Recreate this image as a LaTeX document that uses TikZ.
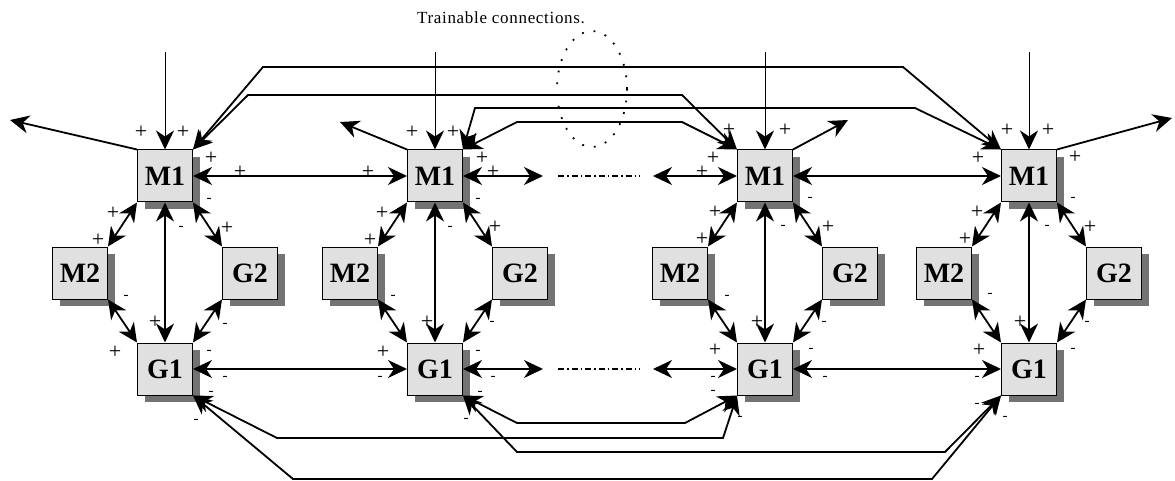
\documentclass[tikz,border=0pt]{standalone}
\usepackage{fontspec}
\setmainfont{Liberation Serif}
\usepackage{tikz}
\usetikzlibrary{arrows.meta, shadows, shapes.geometric}
\definecolor{boxFill}{gray}{0.88}
\definecolor{shadowGray}{gray}{0.45}

\begin{document}
\begin{tikzpicture}[x=1pt, y=-1pt,
    unit/.style={draw, line width=1pt, fill=boxFill, minimum width=55pt, minimum height=52pt,
        inner sep=0pt, font=\bfseries\fontsize{28}{28}\selectfont,
        drop shadow={shadow xshift=7pt, shadow yshift=-7pt, fill=shadowGray, opacity=1}},
    link/.style={line width=1.8pt, {Stealth[length=19pt, width=18pt, inset=6pt]}-{Stealth[length=19pt, width=18pt, inset=6pt]}},
    outlink/.style={line width=1.8pt, -{Stealth[length=19pt, width=18pt, inset=6pt]}},
    wire/.style={line width=1pt, -{Stealth[length=19pt, width=18pt, inset=6pt]}},
    sgnplus/.style={inner sep=0pt, font=\fontsize{22}{22}\selectfont},
    sgnminus/.style={inner sep=0pt, font=\fontsize{15}{15}\selectfont}]
    \useasboundingbox (0,0) rectangle (1175,481);

    \foreach \c/\x in {1/165, 2/435, 3/765, 4/1029} {
        \node[unit] (M1-\c) at (\x,176) {M1};
        \node[unit] (G1-\c) at (\x,369) {G1};
        \node[unit] (M2-\c) at ({\x-85},273) {M2};
        \node[unit] (G2-\c) at ({\x+85},273) {G2};
        \coordinate (in-\c) at (\x,52);
        \draw[wire] (in-\c) -- (M1-\c);
        \draw[link] (M1-\c) -- (G1-\c);
        \draw[link] (M1-\c.south west) -- (M2-\c.north east);
        \draw[link] (M1-\c.south east) -- (G2-\c.north west);
        \draw[link] (M2-\c.south east) -- (G1-\c.north west);
        \draw[link] (G2-\c.south west) -- (G1-\c.north east);
    }

    % outputs
    \coordinate (out-1) at (10,120);
    \coordinate (out-2) at (340,122);
    \coordinate (out-3) at (848,120);
    \coordinate (out-4) at (1172,118);
    \draw[outlink] (M1-1.north west) -- (out-1);
    \draw[outlink] (M1-2.north west) -- (out-2);
    \draw[outlink] (M1-3.north east) -- (out-3);
    \draw[outlink] (M1-4.north east) -- (out-4);

    % neighbours
    \coordinate (mr) at (543,176);
    \coordinate (ml) at (653,176);
    \coordinate (gr) at (543,369);
    \coordinate (gl) at (653,369);
    \draw[link] (M1-1) -- (M1-2);
    \draw[link] (M1-3) -- (M1-4);
    \draw[link] (M1-2) -- (mr);
    \draw[link] (ml) -- (M1-3);
    \draw[link] (G1-1) -- (G1-2);
    \draw[link] (G1-3) -- (G1-4);
    \draw[link] (G1-2) -- (gr);
    \draw[link] (gl) -- (G1-3);
    \draw[line width=1.8pt, dash pattern=on 6pt off 3pt on 1.5pt off 3pt] (558,176) -- (640,176);
    \draw[line width=1.8pt, dash pattern=on 6pt off 3pt on 1.5pt off 3pt] (558,369) -- (640,369);

    % long range
    \draw[link] (M1-1.north east) -- (263,67) -- (903,67) -- (M1-4.north west);
    \draw[link] (M1-1.north east) -- (248,95) -- (682,95) -- (M1-3.north west);
    \draw[link] (M1-2.north east) -- (475,108) -- (915,108) -- (M1-4.north west);
    \draw[link] (M1-2.north east) -- (517,122) -- (682,122) -- (M1-3.north west);
    \draw[link] (G1-1.south east) -- (293,479) -- (932,479) -- (G1-4.south west);
    \draw[link] (G1-1.south east) -- (277,438) -- (723,438) -- (G1-3.south west);
    \draw[link] (G1-2.south east) -- (517,452) -- (945,452) -- (G1-4.south west);
    \draw[link] (G1-2.south east) -- (517,423) -- (685,423) -- (G1-3.south west);

    \node[ellipse, draw, line width=1.8pt, dash pattern=on 1.8pt off 10pt,
        minimum width=70pt, minimum height=116pt] (train) at (592,89) {};
    \node[font=\fontsize{17}{17}\selectfont\addfontfeature{LetterSpace=4}] (trainLabel) at (501,18)
        {Trainable connections.};

    \foreach \p [count=\i] in {(141,132), (183,132), (211,158), (240,172), (368,172), (113,213),
        (98,240), (227,228), (155,322), (115,352), (412,132), (453,132), (482,158), (493,172),
        (382,213), (370,240), (495,227), (427,322), (383,352), (729,130), (785,130), (713,158),
        (702,172), (715,212), (702,239), (828,227), (757,322), (715,350), (1007,130), (1048,130),
        (978,158), (1075,157), (977,212), (965,239), (1090,227), (1020,322), (979,350)}
        \node[sgnplus] (plus-\i) at \p {+};
    \foreach \p [count=\i] in {(209,200), (181,228), (126,297), (225,325), (209,352), (225,378),
        (211,393), (196,421), (478,200), (450,228), (393,297), (492,323), (478,352), (493,378),
        (480,393), (466,420), (380,378), (810,199), (783,227), (727,297), (824,323), (811,350),
        (825,378), (713,378), (713,392), (740,418), (1073,199), (1047,227), (990,295), (1087,323),
        (1073,350), (977,378), (977,405), (1005,418)}
        \node[sgnminus] (minus-\i) at \p {-};
\end{tikzpicture}
\end{document}
